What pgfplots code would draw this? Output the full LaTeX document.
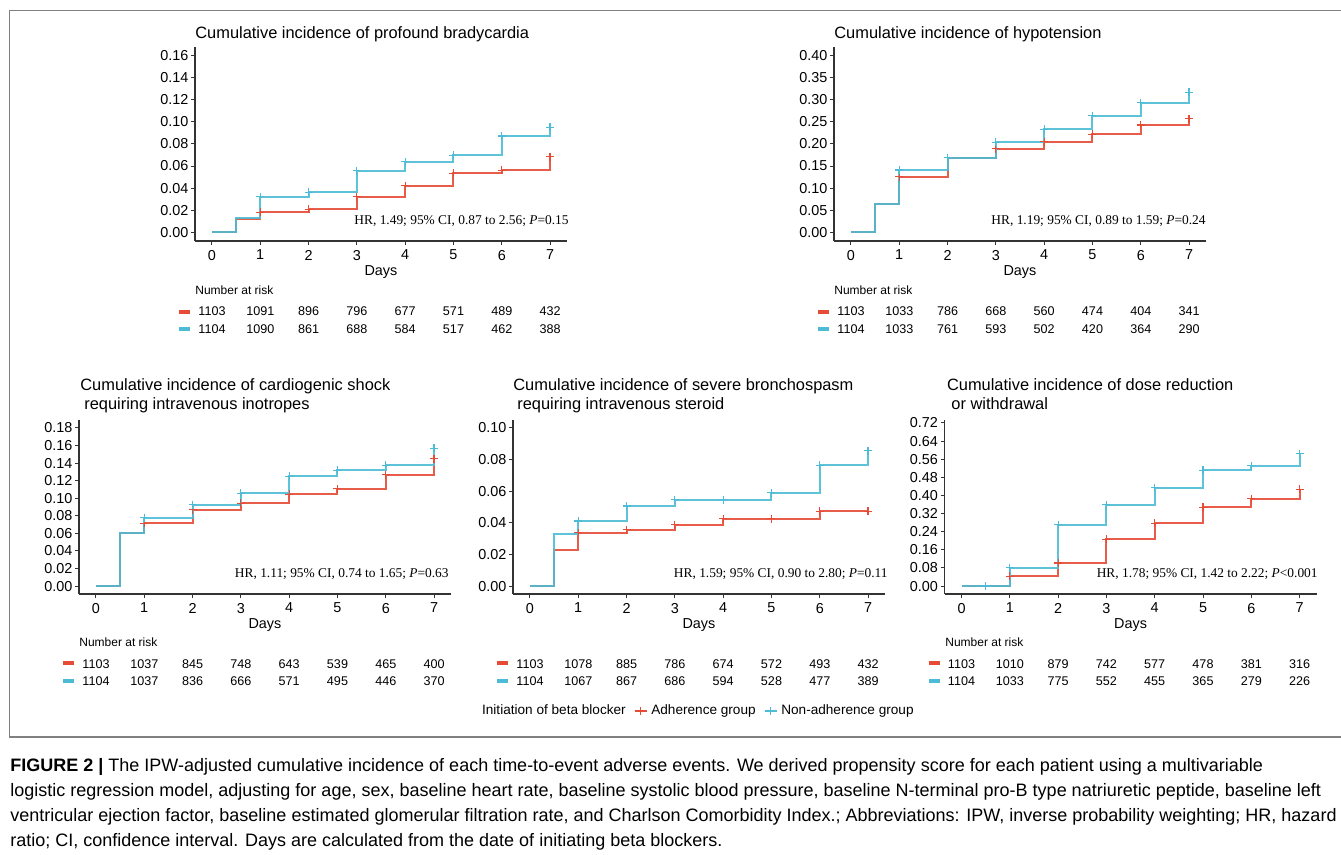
\documentclass[border=0pt]{standalone}
\usepackage{fontspec}
\setmainfont{Liberation Sans}
\newfontfamily\timesf{Liberation Serif}
\usepackage{pgfplots}
\pgfplotsset{compat=1.18}
\definecolor{cred}{HTML}{E64B35}
\definecolor{cblue}{HTML}{4DBBD5}
\definecolor{bordergray}{HTML}{808080}
\newcommand{\riskfont}{\fontsize{6.3}{7}\selectfont}
\newcommand{\titlefont}{\fontsize{8.2}{9}\selectfont}
\newcommand{\hrfont}{\timesf\fontsize{6.7}{8}\selectfont}
\newcommand{\capfont}{\fontsize{9}{11}\selectfont}
\pgfplotsset{
  km/.style={
    scale only axis, width=186pt,
    axis lines=left, axis line style={-, black!80, line width=0.6pt},
    xmin=-0.35, xmax=7.35, xtick={0,1,2,3,4,5,6,7},
    tick align=outside, major tick length=2pt,
    tick style={black!80, line width=0.5pt},
    tick label style={font=\fontsize{7.2}{8}\selectfont},
    /pgf/number format/assume math mode=true,
    scaled y ticks=false,
    yticklabel style={xshift=2.2pt, /pgf/number format/fixed, /pgf/number format/fixed zerofill, /pgf/number format/precision=2},
    xticklabel style={yshift=1pt},
    xlabel={Days}, xlabel style={font=\fontsize{7.2}{8}\selectfont, yshift=4pt},
    clip=false,
  },
  stepr/.style={const plot, color=cred, line width=1pt, no marks, forget plot, opacity=0.9},
  stepb/.style={const plot, color=cblue, line width=1pt, no marks, forget plot, opacity=0.9},
  markr/.style={only marks, color=cred, mark=+, mark size=2pt, mark options={line width=0.6pt}, forget plot},
  markb/.style={only marks, color=cblue, mark=+, mark size=2pt, mark options={line width=0.6pt}, forget plot},
}
\newcommand{\risk}[3]{\foreach \v [count=\i from 0] in {#3} {\node[anchor=base, font=\riskfont, inner sep=0pt] at ({#1+48.3*\i},#2) {\v};}}
\begin{document}
\begin{tikzpicture}
\useasboundingbox (0,0) rectangle (670.5pt,427.5pt);

% ---------- Panel 1
\begin{axis}[km, at={(97.5pt,307pt)}, anchor=south west, height=97pt,
  ymin=-0.008, ymax=0.168, ytick={0,0.02,0.04,0.06,0.08,0.10,0.12,0.14,0.16}]
\addplot[stepr] coordinates {(0,0)(0.5,0.0118)(1,0.0181)(2,0.0208)(3,0.0323)(4,0.0423)(5,0.0534)(6,0.0561)(7,0.0685)};
\addplot[markr] coordinates {(1,0.0181)(2,0.0208)(3,0.0323)(4,0.0423)(5,0.0534)(6,0.0561)(7,0.0685)};
\addplot[stepb] coordinates {(0,0)(0.5,0.0130)(1,0.0323)(2,0.0362)(3,0.0558)(4,0.0640)(5,0.0697)(6,0.0872)(7,0.0951)};
\addplot[markb] coordinates {(1,0.0323)(2,0.0362)(3,0.0558)(4,0.0640)(5,0.0697)(6,0.0872)(7,0.0951)};
\end{axis}

% ---------- Panel 2
\begin{axis}[km, at={(417pt,307pt)}, anchor=south west, height=97pt,
  ymin=-0.02, ymax=0.42, ytick={0,0.05,0.10,0.15,0.20,0.25,0.30,0.35,0.40}]
\addplot[stepr] coordinates {(0,0)(0.5,0.0634)(1,0.126)(2,0.169)(3,0.189)(4,0.205)(5,0.222)(6,0.243)(7,0.257)};
\addplot[markr] coordinates {(1,0.126)(2,0.169)(3,0.189)(4,0.205)(5,0.222)(6,0.243)(7,0.257)};
\addplot[stepb] coordinates {(0,0)(0.5,0.0634)(1,0.141)(2,0.169)(3,0.204)(4,0.233)(5,0.264)(6,0.294)(7,0.317)};
\addplot[markb] coordinates {(1,0.141)(2,0.169)(3,0.204)(4,0.233)(5,0.264)(6,0.294)(7,0.317)};
\end{axis}

% ---------- Panel 3
\begin{axis}[km, at={(39.5pt,130.5pt)}, anchor=south west, height=87pt,
  ymin=-0.009, ymax=0.189, ytick={0,0.02,0.04,0.06,0.08,0.10,0.12,0.14,0.16,0.18}]
\addplot[stepr] coordinates {(0,0)(0.5,0.0609)(1,0.0715)(2,0.0868)(3,0.0944)(4,0.1046)(5,0.1107)(6,0.1267)(7,0.145)};
\addplot[markr] coordinates {(1,0.0715)(2,0.0868)(3,0.0944)(4,0.1046)(5,0.1107)(6,0.1267)(7,0.145)};
\addplot[stepb] coordinates {(0,0)(0.5,0.0609)(1,0.078)(2,0.0925)(3,0.1058)(4,0.1248)(5,0.1317)(6,0.1374)(7,0.157)};
\addplot[markb] coordinates {(1,0.078)(2,0.0925)(3,0.1058)(4,0.1248)(5,0.1317)(6,0.1374)(7,0.157)};
\end{axis}

% ---------- Panel 4
\begin{axis}[km, at={(256.5pt,130.5pt)}, anchor=south west, height=87pt,
  ymin=-0.005, ymax=0.105, ytick={0,0.02,0.04,0.06,0.08,0.10},
  legend style={at={(0.497,-0.672)}, anchor=center, draw=none, fill=none,
    legend columns=-1, font=\fontsize{6.8}{7}\selectfont,
    /tikz/every even column/.append style={column sep=2pt}},
  legend image code/.code={\draw[mark repeat=2,mark phase=2,#1] plot coordinates {(0pt,0pt)(3pt,0pt)(6pt,0pt)};}]
\addplot[stepr] coordinates {(0,0)(0.5,0.0231)(1,0.0338)(2,0.0357)(3,0.0389)(4,0.0426)(5,0.0426)(6,0.0473)(7,0.0473)};
\addplot[markr] coordinates {(1,0.0338)(2,0.0357)(3,0.0389)(4,0.0426)(5,0.0426)(6,0.0473)(7,0.0473)};
\addplot[stepb] coordinates {(0,0)(0.5,0.0332)(1,0.0412)(2,0.0506)(3,0.0546)(4,0.0546)(5,0.059)(6,0.0763)(7,0.0857)};
\addplot[markb] coordinates {(1,0.0412)(2,0.0506)(3,0.0546)(4,0.0546)(5,0.059)(6,0.0763)(7,0.0857)};
\addlegendimage{empty legend}
\addlegendentry{Initiation of beta blocker}
\addlegendimage{cred, line width=0.8pt, mark=+, mark size=2pt}
\addlegendentry{Adherence group}
\addlegendimage{cblue, line width=0.8pt, mark=+, mark size=2pt}
\addlegendentry{Non-adherence group}
\end{axis}

% ---------- Panel 5
\begin{axis}[km, at={(472.3pt,130.5pt)}, anchor=south west, height=87pt,
  ymin=-0.035, ymax=0.733, ytick={0,0.08,0.16,0.24,0.32,0.40,0.48,0.56,0.64,0.72}]
\addplot[stepr] coordinates {(0,0)(1,0.0438)(2,0.102)(3,0.206)(4,0.2775)(5,0.3476)(6,0.3856)(7,0.4265)};
\addplot[markr] coordinates {(1,0.0438)(2,0.102)(3,0.206)(4,0.2775)(5,0.3476)(6,0.3856)(7,0.4265)};
\addplot[stepb] coordinates {(0,0)(1,0.0818)(2,0.270)(3,0.359)(4,0.435)(5,0.511)(6,0.532)(7,0.584)};
\addplot[markb] coordinates {(0.5,0)(1,0.0818)(2,0.270)(3,0.359)(4,0.435)(5,0.511)(6,0.532)(7,0.584)};
\end{axis}

\begin{scope}[x=0.5pt, y=-0.5pt, shift={(0pt,427.5pt)}]
% border
\draw[bordergray, line width=0.9pt] (1341,10.5) -- (9.5,10.5) -- (9.5,737) -- (1341,737);
% titles
\node[anchor=base west, inner sep=0pt, font=\titlefont] at (195,38.3) {Cumulative incidence of profound bradycardia};
\node[anchor=base west, inner sep=0pt, font=\titlefont] at (834,38.3) {Cumulative incidence of hypotension};
\node[anchor=base west, inner sep=0pt, font=\titlefont] at (80,390.7) {Cumulative incidence of cardiogenic shock};
\node[anchor=base west, inner sep=0pt, font=\titlefont] at (84,410) {requiring intravenous inotropes};
\node[anchor=base west, inner sep=0pt, font=\titlefont] at (513,390.7) {Cumulative incidence of severe bronchospasm};
\node[anchor=base west, inner sep=0pt, font=\titlefont] at (517,410) {requiring intravenous steroid};
\node[anchor=base west, inner sep=0pt, font=\titlefont] at (946.7,390.7) {Cumulative incidence of dose reduction};
\node[anchor=base west, inner sep=0pt, font=\titlefont] at (951,410) {or withdrawal};
% HR annotations
\node[anchor=base east, inner sep=0pt, font=\hrfont] at (569,224.3) {HR, 1.49; 95\% CI, 0.87 to 2.56; \textit{P}=0.15};
\node[anchor=base east, inner sep=0pt, font=\hrfont] at (1206,224.3) {HR, 1.19; 95\% CI, 0.89 to 1.59; \textit{P}=0.24};
\node[anchor=base east, inner sep=0pt, font=\hrfont] at (449,577.3) {HR, 1.11; 95\% CI, 0.74 to 1.65; \textit{P}=0.63};
\node[anchor=base east, inner sep=0pt, font=\hrfont] at (888,577.3) {HR, 1.59; 95\% CI, 0.90 to 2.80; \textit{P}=0.11};
\node[anchor=base east, inner sep=0pt, font=\hrfont] at (1318,577.3) {HR, 1.78; 95\% CI, 1.42 to 2.22; \textit{P}<0.001};
% risk tables
\node[anchor=base west, inner sep=0pt, font=\fontsize{6}{7}\selectfont] at (195,294.3) {Number at risk};
\node[anchor=base west, inner sep=0pt, font=\fontsize{6}{7}\selectfont] at (834,294.3) {Number at risk};
\node[anchor=base west, inner sep=0pt, font=\fontsize{6}{7}\selectfont] at (79,646.7) {Number at risk};
\node[anchor=base west, inner sep=0pt, font=\fontsize{6}{7}\selectfont] at (945,646.7) {Number at risk};
\foreach \xz/\yr/\yb in {212/311.7/329, 851/311.7/329, 96/663.3/681, 530/663.3/681, 961.5/663.3/681} {
  \draw[cred, line width=2pt] ({\xz-33},\yr) -- ({\xz-22},\yr);
  \draw[cblue, line width=2pt] ({\xz-33},\yb) -- ({\xz-22},\yb);
}
\risk{212}{316}{1103,1091,896,796,677,571,489,432}
\risk{212}{333.7}{1104,1090,861,688,584,517,462,388}
\risk{851}{316}{1103,1033,786,668,560,474,404,341}
\risk{851}{333.7}{1104,1033,761,593,502,420,364,290}
\risk{96}{668.3}{1103,1037,845,748,643,539,465,400}
\risk{96}{685.7}{1104,1037,836,666,571,495,446,370}
\risk{530}{668.3}{1103,1078,885,786,674,572,493,432}
\risk{530}{685.7}{1104,1067,867,686,594,528,477,389}
\risk{961.5}{668.3}{1103,1010,879,742,577,478,381,316}
\risk{961.5}{685.7}{1104,1033,775,552,455,365,279,226}
% caption
\node[anchor=base west, inner sep=0pt, font=\capfont] at (10,772) {\textbf{FIGURE 2} \textbf{|} The IPW-adjusted cumulative incidence of each time-to-event adverse events. We derived propensity score for each patient using a multivariable};
\node[anchor=base west, inner sep=0pt, font=\capfont] at (10,797) {logistic regression model, adjusting for age, sex, baseline heart rate, baseline systolic blood pressure, baseline N-terminal pro-B type natriuretic peptide, baseline left};
\node[anchor=base west, inner sep=0pt, font=\capfont] at (10,822) {ventricular ejection factor, baseline estimated glomerular filtration rate, and Charlson Comorbidity Index.; Abbreviations: IPW, inverse probability weighting; HR, hazard};
\node[anchor=base west, inner sep=0pt, font=\capfont] at (10,846.5) {ratio; CI, confidence interval. Days are calculated from the date of initiating beta blockers.};
\end{scope}
\end{tikzpicture}
\end{document}
